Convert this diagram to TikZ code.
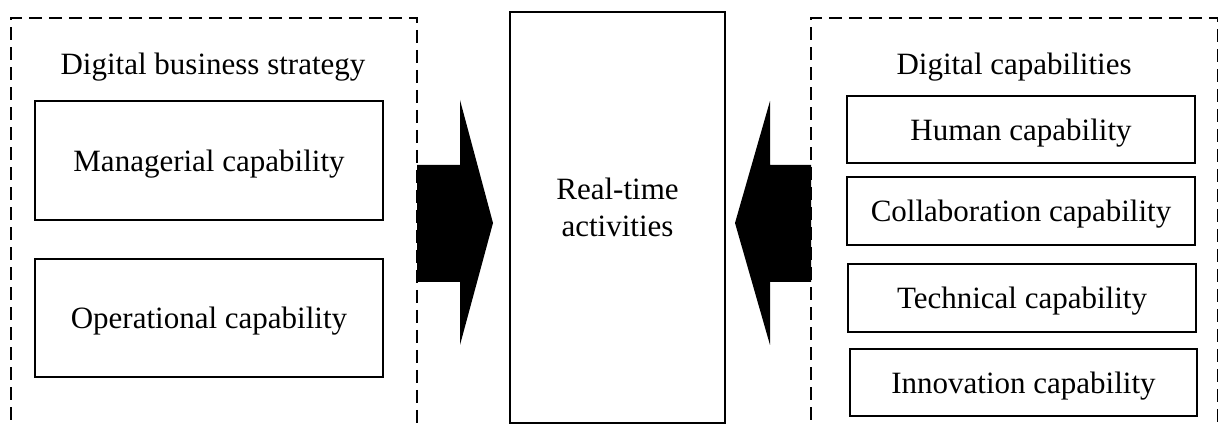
\documentclass[tikz,border=0pt]{standalone}
\usepackage{fontspec}
\setmainfont{Liberation Serif}
\begin{document}
\begin{tikzpicture}[x=1pt,y=-1pt,
  txt/.style={font=\fontsize{31}{37}\selectfont, inner sep=0pt, align=center, text depth=0pt},
  capbox/.style={draw, line width=1.6pt, txt},
  group/.style={draw, line width=1.4pt, dash pattern=on 13pt off 7pt},
  blockarrow/.style={fill=black, draw=none}]
\useasboundingbox (0,0) rectangle (1219,427);
\clip (0,0) rectangle (1219,427);
% dashed group boxes (bottom cut by the frame)
\draw[group] (11,440) -- (11,18) -- (417,18) -- (417,440);
\draw[group] (811,440) -- (811,18) -- (1217.5,18) -- (1217.5,440);
% titles
\node[txt] (t1) at (213,64) {Digital business strategy};
\node[txt] (t2) at (1014,64) {Digital capabilities};
% left capability boxes
\node[capbox, minimum width=348pt, minimum height=119pt] (man) at (209,160.5) {Managerial capability};
\node[capbox, minimum width=348pt, minimum height=118pt] (ope) at (209,318) {Operational capability};
% centre box
\node[capbox, minimum width=215pt, minimum height=411pt] (rt) at (617.5,217.5) {};
\node[txt] (rtl) at (617.5,207) {Real-time\\activities};
% right capability boxes
\node[capbox, minimum width=348pt, minimum height=67pt] (hum) at (1021,129.5) {Human capability};
\node[capbox, minimum width=348pt, minimum height=68pt] (col) at (1021,211) {Collaboration capability};
\node[capbox, minimum width=348pt, minimum height=68pt] (tec) at (1022,298) {Technical capability};
\node[capbox, minimum width=347pt, minimum height=67pt] (inn) at (1023.5,382.5) {Innovation capability};
% block arrows
\fill[blockarrow] (417,165) -- (460,165) -- (460,100) -- (493,223) -- (460,345) -- (460,282) -- (417,282) -- cycle;
\fill[blockarrow] (811,165) -- (770,165) -- (770,101) -- (735,223) -- (770,345) -- (770,282) -- (811,282) -- cycle;
\end{tikzpicture}
\end{document}
